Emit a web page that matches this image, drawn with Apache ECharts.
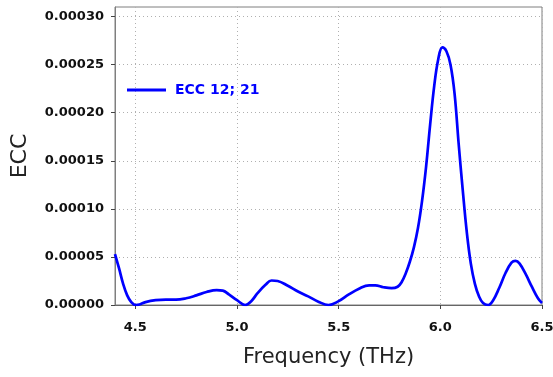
<!DOCTYPE html>
<html>
<head>
<meta charset="utf-8">
<script src="https://cdn.jsdelivr.net/npm/echarts@6/dist/echarts.min.js"></script>
<style>html,body{margin:0;padding:0;background:#fff}#main{width:553px;height:377px}</style>
</head>
<body>
<div id="main"></div>
<script>
var freq = [4.40, 4.42, 4.44, 4.46, 4.48, 4.50, 4.52, 4.55, 4.60, 4.65, 4.70, 4.75, 4.80, 4.85, 4.90, 4.93, 4.96, 5.00, 5.04, 5.07, 5.10, 5.14, 5.17, 5.20, 5.25, 5.30, 5.35, 5.40, 5.45, 5.50, 5.55, 5.60, 5.65, 5.68, 5.72, 5.76, 5.79, 5.81, 5.83, 5.85, 5.87, 5.89, 5.91, 5.93, 5.95, 5.97, 5.99, 6.01, 6.03, 6.05, 6.07, 6.09, 6.11, 6.13, 6.15, 6.17, 6.19, 6.21, 6.235, 6.26, 6.29, 6.32, 6.35, 6.37, 6.39, 6.42, 6.45, 6.48, 6.50];
// ECC values in units of 1e-5
var ecc = [5.3, 3.8, 2.2, 1.0, 0.3, 0.0, 0.05, 0.3, 0.5, 0.55, 0.55, 0.7, 1.0, 1.35, 1.55, 1.5, 1.1, 0.5, 0.0, 0.4, 1.2, 2.1, 2.55, 2.5, 2.0, 1.4, 0.9, 0.35, 0.0, 0.4, 1.1, 1.7, 2.05, 2.05, 1.85, 1.75, 1.9, 2.4, 3.3, 4.5, 6.0, 8.0, 10.8, 14.4, 18.8, 22.8, 25.6, 26.8, 26.4, 25.0, 22.0, 16.8, 12.0, 7.6, 4.3, 2.2, 0.9, 0.2, 0.0, 0.5, 1.8, 3.3, 4.4, 4.6, 4.3, 3.2, 1.9, 0.7, 0.2];
var xTicks = [4.5, 5.0, 5.5, 6.0, 6.5];
var yTicks = [0, 0.00005, 0.0001, 0.00015, 0.0002, 0.00025, 0.0003];

var chartDom = document.getElementById('main');
var myChart = echarts.init(chartDom, null, { renderer: 'canvas' });

var labelFont = { color: '#111', fontWeight: 'bold', fontSize: 13, fontFamily: 'DejaVu Sans' };

var option = {
    animation: false,
    grid: {
        left: 115, right: 11, top: 7, bottom: 72,
        outerBoundsMode: 'none', containLabel: false,
        show: true, borderColor: '#7f7f7f', borderWidth: 1
    },
    legend: {
        left: 122, top: 78,
        icon: 'rect', itemWidth: 39, itemHeight: 3,
        textStyle: { color: '#0000ff', fontWeight: 'bold', fontSize: 14, fontFamily: 'DejaVu Sans', padding: [0, 0, 0, 4] },
        data: ['ECC 12; 21']
    },
    xAxis: {
        type: 'value', min: 4.4, max: 6.5,
        name: 'Frequency (THz)', nameLocation: 'middle', nameGap: 42,
        nameTextStyle: { fontSize: 21, color: '#222', fontFamily: 'DejaVu Sans' },
        axisLine: { lineStyle: { color: '#666' } },
        axisTick: { customValues: xTicks, length: 4, lineStyle: { color: '#444' } },
        axisLabel: Object.assign({
            customValues: xTicks, margin: 16,
            formatter: function (v) { return v.toFixed(1); }
        }, labelFont),
        splitLine: { show: true, lineStyle: { type: [1, 3], color: '#b0b0b0' } }
    },
    yAxis: {
        type: 'value', min: 0, max: 0.00031,
        name: 'ECC', nameLocation: 'middle', nameGap: 84,
        nameTextStyle: { fontSize: 22, color: '#222', fontFamily: 'DejaVu Sans' },
        axisLine: { show: true, lineStyle: { color: '#7f7f7f' } },
        axisTick: { show: true, customValues: yTicks, length: 4, lineStyle: { color: '#444' } },
        axisLabel: Object.assign({
            customValues: yTicks, margin: 11,
            formatter: function (v) { return v.toFixed(5); }
        }, labelFont),
        splitLine: { show: true, lineStyle: { type: [1, 3], color: '#b0b0b0' } }
    },
    series: [{
        name: 'ECC 12; 21',
        type: 'line',
        smooth: 0.4,
        showSymbol: false,
        lineStyle: { color: '#0000ff', width: 2.7 },
        itemStyle: { color: '#0000ff' },
        data: freq.map(function (f, i) { return [f, ecc[i] * 1e-5]; })
    }]
};
myChart.setOption(option);
</script>
</body>
</html>
